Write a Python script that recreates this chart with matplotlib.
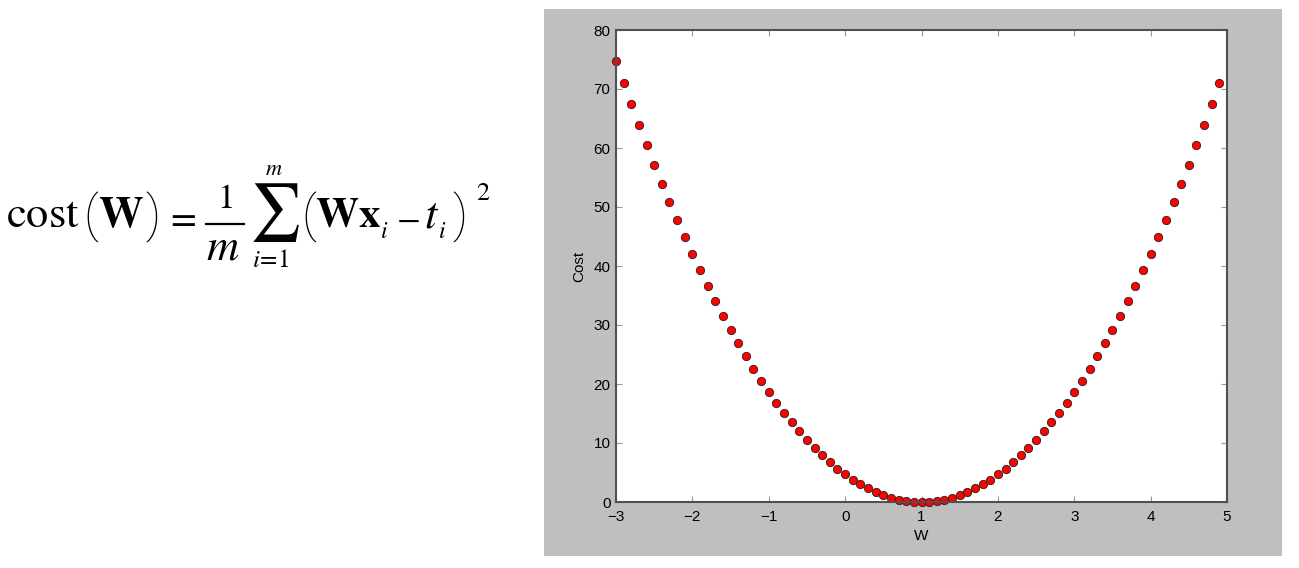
"""Cost curve for a one-weight linear model, next to its formula."""

import matplotlib

matplotlib.use("Agg")

import matplotlib.pyplot as plt
from matplotlib.lines import Line2D
from matplotlib.patches import Rectangle

# W values sampled along the x axis
weights = [
    -3.0, -2.9, -2.8, -2.7, -2.6, -2.5, -2.4, -2.3, -2.2, -2.1,
    -2.0, -1.9, -1.8, -1.7, -1.6, -1.5, -1.4, -1.3, -1.2, -1.1,
    -1.0, -0.9, -0.8, -0.7, -0.6, -0.5, -0.4, -0.3, -0.2, -0.1,
    0.0, 0.1, 0.2, 0.3, 0.4, 0.5, 0.6, 0.7, 0.8, 0.9,
    1.0, 1.1, 1.2, 1.3, 1.4, 1.5, 1.6, 1.7, 1.8, 1.9,
    2.0, 2.1, 2.2, 2.3, 2.4, 2.5, 2.6, 2.7, 2.8, 2.9,
    3.0, 3.1, 3.2, 3.3, 3.4, 3.5, 3.6, 3.7, 3.8, 3.9,
    4.0, 4.1, 4.2, 4.3, 4.4, 4.5, 4.6, 4.7, 4.8, 4.9,
]

# cost for each W
costs = [
    74.67, 70.98, 67.39, 63.89, 60.48, 57.17, 53.95, 50.82, 47.79, 44.85,
    42.00, 39.25, 36.59, 34.02, 31.55, 29.17, 26.88, 24.69, 22.59, 20.58,
    18.67, 16.85, 15.12, 13.49, 11.95, 10.50, 9.15, 7.89, 6.72, 5.65,
    4.67, 3.78, 2.99, 2.29, 1.68, 1.17, 0.75, 0.42, 0.19, 0.05,
    0.00, 0.05, 0.19, 0.42, 0.75, 1.17, 1.68, 2.29, 2.99, 3.78,
    4.67, 5.65, 6.72, 7.89, 9.15, 10.50, 11.95, 13.49, 15.12, 16.85,
    18.67, 20.58, 22.59, 24.69, 26.88, 29.17, 31.55, 34.02, 36.59, 39.25,
    42.00, 44.85, 47.79, 50.82, 53.95, 57.17, 60.48, 63.89, 67.39, 70.98,
]

x_ticks = [-3, -2, -1, 0, 1, 2, 3, 4, 5]
x_tick_labels = ["\u22123", "\u22122", "\u22121", "0", "1", "2", "3", "4", "5"]
y_ticks = [0, 10, 20, 30, 40, 50, 60, 70, 80]

W_PX, H_PX = 1299, 568

plt.rcParams["mathtext.fontset"] = "stix"
plt.rcParams["font.family"] = ["Liberation Sans", "DejaVu Sans"]

fig = plt.figure(figsize=(W_PX / 100, H_PX / 100), dpi=100, facecolor="white")


def fx(px):
    return px / W_PX


def fy(py):
    return 1 - py / H_PX


def piece(x, y, s, size, va="baseline"):
    """Put one piece of the formula at pixel x / y (from the top)."""
    fig.text(fx(x), fy(y), s, fontsize=size, ha="left", va=va)


def paren(x, s):
    # tall, thin-stroked brackets of the equation editor
    fig.text(fx(x), fy(217), s, fontsize=36, ha="left", va="center",
             family=["Roboto", "DejaVu Sans"], fontweight="light")


# the formula, laid out piece by piece like the equation-editor original
piece(6, 227, r"$\mathrm{cost}$", 32)
paren(83, "(")
piece(98, 227, r"$\mathbf{W}$", 32)
paren(145, ")")
piece(165, 229, r"$=$", 27)
piece(217, 208, r"$\mathrm{1}$", 25)
fig.add_artist(Line2D([fx(206), fx(244)], [fy(224), fy(224)],
                      color="black", linewidth=1.6))
piece(206, 259, r"$m$", 32)
piece(265, 175, r"$m$", 16)
piece(249, 213, r"$\sum$", 41, va="center")
piece(252, 267, r"$i\!=\!\mathrm{1}$", 18)
paren(301, "(")
piece(315, 227, r"$\mathbf{Wx}$", 31)
piece(380, 238, r"$i$", 17)
piece(396, 229, r"$-$", 25)
piece(424, 227, r"$t$", 32)
piece(438, 238, r"$i$", 17)
paren(452, ")")
piece(476, 200, r"$\mathrm{2}$", 19)

# grey panel behind the plot
fig.patches.append(
    Rectangle(
        (fx(544), fy(556)),
        (1282 - 544) / W_PX,
        (556 - 9) / H_PX,
        transform=fig.transFigure,
        facecolor="#bfbfbf",
        edgecolor="none",
        zorder=-1,
    )
)

ax = fig.add_axes([fx(616), fy(502), (1227 - 616) / W_PX, (502 - 30) / H_PX])
ax.set_facecolor("white")
ax.plot(
    weights,
    costs,
    linestyle="none",
    marker="o",
    markersize=6,
    markerfacecolor="#ff0000",
    markeredgecolor="#222222",
    markeredgewidth=0.6,
    clip_on=False,
)
ax.set_xlim(-3, 5)
ax.set_ylim(0, 80)
ax.set_xticks(x_ticks)
ax.set_xticklabels(x_tick_labels)
ax.set_yticks(y_ticks)
ax.tick_params(
    direction="in", length=4, width=0.8, color="#999999",
    top=True, right=True, labelsize=11,
)
ax.tick_params(axis="x", pad=6)
ax.tick_params(axis="y", pad=4)
for spine in ax.spines.values():
    spine.set_color("#505050")
    spine.set_linewidth(1.5)
ax.set_xlabel("W", fontsize=11, labelpad=3)
ax.set_ylabel("Cost", fontsize=11, labelpad=5)

fig.savefig("out.png", dpi=100, facecolor="white")
plt.close(fig)
